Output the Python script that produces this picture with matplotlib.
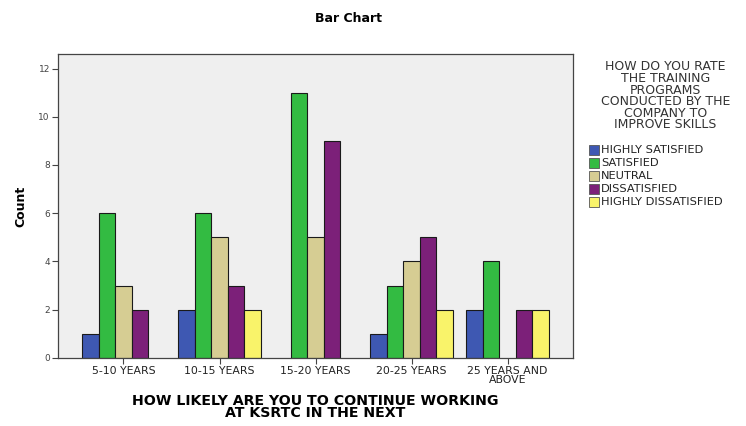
import numpy as np
import matplotlib
matplotlib.use("Agg")
import matplotlib.pyplot as plt
from matplotlib.patches import Rectangle

plt.rcParams["font.family"] = ["DejaVu Sans"]

# --- data ---
categories = ["5-10 YEARS", "10-15 YEARS", "15-20 YEARS", "20-25 YEARS", "25 YEARS AND\nABOVE"]
series = ["HIGHLY SATISFIED", "SATISFIED", "NEUTRAL", "DISSATISFIED", "HIGHLY DISSATISFIED"]
highly_satisfied = [1, 2, 0, 1, 2]
satisfied = [6, 6, 11, 3, 4]
neutral = [3, 5, 5, 4, 0]
dissatisfied = [2, 3, 9, 5, 2]
highly_dissatisfied = [0, 2, 0, 2, 2]
yticks = [0, 2, 4, 6, 8, 10, 12]

counts = [highly_satisfied, satisfied, neutral, dissatisfied, highly_dissatisfied]
colors = ["#3E58B2", "#33BB42", "#D6CD93", "#7C2079", "#F9F36A"]

fig = plt.figure(figsize=(7.46, 4.26), dpi=100)
ax = fig.add_axes([0.078, 0.16, 0.69, 0.713])
ax.set_facecolor("#EFEFEF")

x = np.arange(len(categories))
bar_w = 0.172
for i, (vals, col) in enumerate(zip(counts, colors)):
    pos = x + (i - 2) * bar_w
    v = np.array(vals)
    keep = v > 0  # empty cells are not drawn
    ax.bar(pos[keep], v[keep], bar_w, color=col, edgecolor="#1a1a1a", linewidth=0.8)

ax.set_xlim(-0.68, 4.68)
ax.set_ylim(0, 12.6)
ax.set_yticks(yticks)
ax.set_yticklabels([str(t) for t in yticks], fontsize=6.5, color="#444444")
ax.set_xticks(x)
ax.set_xticklabels(categories, fontsize=7.8, color="#222222", linespacing=0.8)
ax.tick_params(axis="both", direction="out", length=4, width=0.8, color="#444444", pad=2)
for s in ax.spines.values():
    s.set_color("#444444")
    s.set_linewidth(0.9)

ax.set_ylabel("Count", fontsize=9, fontweight="bold", labelpad=8)
ax.set_xlabel("HOW LIKELY ARE YOU TO CONTINUE WORKING\nAT KSRTC IN THE NEXT",
              fontsize=10.2, fontweight="bold", linespacing=0.8, labelpad=7)
fig.text(0.467, 0.957, "Bar Chart", ha="center", va="center", fontsize=9, fontweight="bold")

# legend: centred title block, then swatch + label rows
fig.text(0.892, 0.858, "HOW DO YOU RATE\nTHE TRAINING\nPROGRAMS\nCONDUCTED BY THE\nCOMPANY TO\nIMPROVE SKILLS",
         ha="center", va="top", fontsize=9, linespacing=0.86, color="#333333")
row_y = [0.648, 0.617, 0.587, 0.557, 0.526]
for name, col, yy in zip(series, colors, row_y):
    fig.patches.append(Rectangle((0.789, yy - 0.012), 0.014, 0.024, transform=fig.transFigure,
                                 facecolor=col, edgecolor="#555555", linewidth=0.6))
    fig.text(0.806, yy, name, ha="left", va="center", fontsize=8.2, color="#222222")

fig.savefig("out.png", dpi=100)
